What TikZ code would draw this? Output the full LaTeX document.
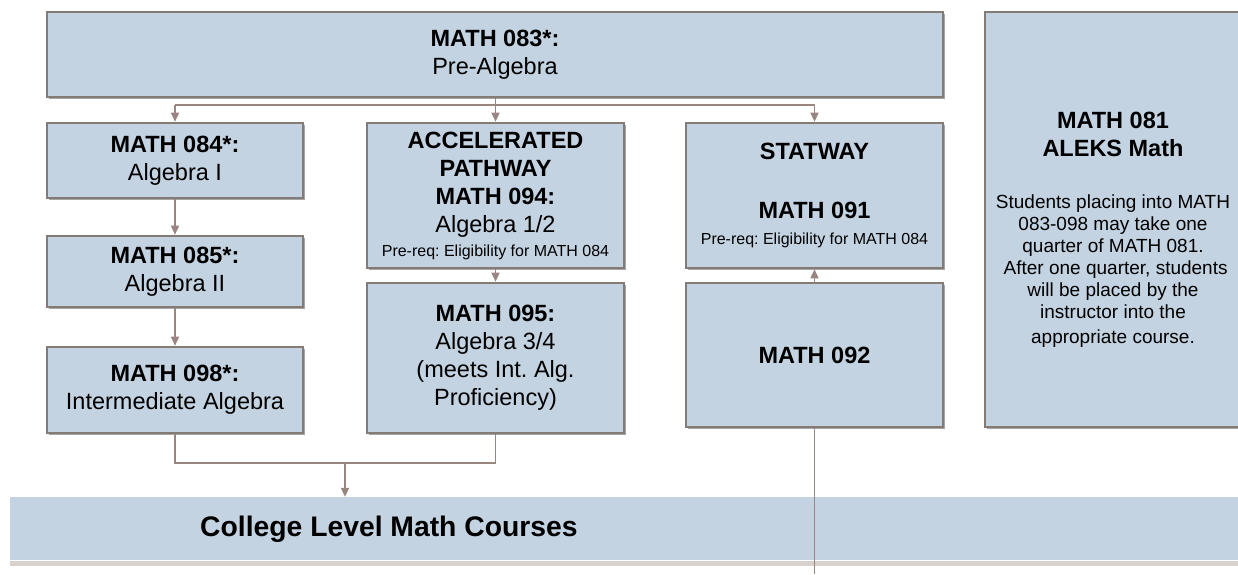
\documentclass[tikz,border=0pt]{standalone}
\usepackage{fontspec}
\setmainfont{Liberation Sans}
\frenchspacing
\usetikzlibrary{arrows.meta,shadows}
\definecolor{boxfill}{HTML}{C4D3E1}
\definecolor{boxline}{HTML}{847A76}
\definecolor{connc}{HTML}{998680}
\definecolor{barline}{HTML}{D8D2CE}
\tikzset{
  box/.style={draw=boxline, line width=2.6pt, fill=boxfill, inner sep=0pt, align=center,
    rectangle, font=\fontsize{23.5}{28}\selectfont,
    drop shadow={shadow xshift=1.5pt, shadow yshift=-1.5pt, opacity=0.35, fill=black}},
  conn/.style={draw=connc, line width=1.6pt},
  arr/.style={conn, -{Triangle[length=9pt, width=8pt]}},
  txt/.style={inner sep=0pt, align=center, font=\fontsize{23.5}{28}\selectfont},
}
\newcommand{\prq}{{\fontsize{16}{20}\selectfont Pre-req: Eligibility for MATH 084}}
\newcommand{\bodyf}{\fontsize{19}{22}\selectfont}
\begin{document}
\begin{tikzpicture}[x=1pt, y=-1pt]
\useasboundingbox (0,0) rectangle (1238,574);
\fill[white] (0,0) rectangle (1238,574);

% college bar
\fill[barline] (10,561) rectangle (1245,566);
\node[fill=boxfill, minimum width=1235pt, minimum height=63pt, inner sep=0pt] (college) at (627.5,528.5) {};
\node[anchor=west, font=\fontsize{28.3}{32}\selectfont\bfseries, inner sep=0pt] (collegetxt) at (200,529) {College Level Math Courses};

\node[box, minimum width=896pt, minimum height=85pt] (top) at (495,54.5)
  {\textbf{MATH 083*:}\\Pre-Algebra};
\node[box, minimum width=256pt, minimum height=75pt] (m084) at (175,160.5)
  {\textbf{MATH 084*:}\\Algebra I};
\node[box, minimum width=256pt, minimum height=71pt] (m085) at (175,271.5)
  {\textbf{MATH 085*:}\\Algebra II};
\node[box, minimum width=256pt, minimum height=86pt] (m098) at (175,390)
  {\textbf{MATH 098*:}\\Intermediate Algebra};
\node[box, minimum width=257pt, minimum height=145pt] (m094) at (495.5,195.5)
  {\textbf{ACCELERATED}\\\textbf{PATHWAY}\\\textbf{MATH 094:}\\Algebra 1/2\\[-4pt]\prq};
\node[box, minimum width=257pt, minimum height=150pt] (m095) at (495.5,358)
  {\textbf{MATH 095:}\\Algebra 3/4\\(meets Int. Alg.\\Proficiency)};
\node[box, minimum width=257pt, minimum height=145pt] (m091) at (814.5,195.5)
  {\textbf{STATWAY}\\[31pt]\textbf{MATH 091}\\[-2pt]\prq};
\node[box, minimum width=257pt, minimum height=144pt] (m092) at (814.5,355)
  {\textbf{MATH 092}};
\node[box, minimum width=258pt, minimum height=415pt] (m081) at (1114,219.5) {};
\node[txt] (m081t) at (1113,230)
  {\textbf{MATH 081}\\\textbf{ALEKS Math}\\[24pt]
   {\bodyf Students placing into MATH}\\[-6pt]
   {\bodyf 083-098 may take one}\\[-6pt]
   {\bodyf quarter of MATH 081.}\\[-6pt]
   {\bodyf \ After one quarter, students}\\[-6pt]
   {\bodyf will be placed by the}\\[-6pt]
   {\bodyf instructor into the}\\[-3pt]
   {\bodyf appropriate course.}};

% connectors
\coordinate (hb) at (0,105);
\coordinate (bot) at (0,574);
\coordinate (mj) at (345,463);
\draw[arr] (top.south -| m094.north) -- (m094.north);
\draw[conn] (m084.north |- hb) -- (m091.north |- hb);
\draw[arr] (m084.north |- hb) -- (m084.north);
\draw[arr] (m091.north |- hb) -- (m091.north);
\draw[arr] (m084) -- (m085);
\draw[arr] (m085) -- (m098);
\draw[arr] (m094) -- (m095);
\draw[arr] (m092) -- (m091);
\draw[conn] (m092.south) -- (m092.south |- bot);
\draw[conn] (m098.south) -- (m098.south |- mj) -- (m095.south |- mj) -- (m095.south);
\draw[arr] (mj) -- (mj |- college.north);
\end{tikzpicture}
\end{document}
